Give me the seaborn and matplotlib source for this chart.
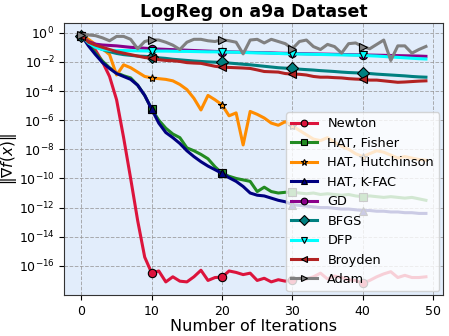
import numpy as np
import pandas as pd
import matplotlib
matplotlib.use("Agg")
import matplotlib.pyplot as plt
import seaborn as sns

# iterations 0..49, values as log10(||grad f||)
iters = list(range(50))

newton_log = [-0.19, -0.55, -1.2, -2.0, -3.0, -4.6, -7.2, -10.0, -12.9, -15.4,
              -16.5, -16.35, -17.1, -16.75, -17.05, -17.1, -16.75, -16.3, -17.0, -16.8,
              -16.77, -16.35, -16.45, -16.6, -16.5, -17.0, -16.85, -17.1, -16.95, -17.05,
              -16.95, -16.85, -16.9, -16.75, -16.5, -16.9, -16.7, -16.8, -16.95, -17.0,
              -17.2, -17.0, -16.75, -16.55, -16.4, -16.8, -16.65, -16.8, -16.8, -16.75]
fisher_log = [-0.19, -0.75, -1.4, -1.95, -2.4, -2.75, -2.95, -3.1, -3.6, -4.3,
              -5.25, -6.0, -6.55, -6.95, -7.2, -7.9, -8.1, -8.35, -8.65, -9.2,
              -9.65, -9.85, -10.0, -10.1, -10.2, -10.9, -10.6, -10.9, -11.0, -10.95,
              -10.95, -11.0, -11.05, -11.0, -11.1, -11.05, -11.1, -11.15, -11.1, -11.2,
              -11.25, -11.2, -11.25, -11.3, -11.25, -11.3, -11.35, -11.3, -11.4, -11.5]
hutch_log = [-0.19, -0.45, -0.8, -1.1, -1.5, -2.9, -2.2, -2.4, -2.7, -3.0,
             -3.1, -3.15, -3.2, -3.3, -3.55, -3.9, -4.5, -5.3, -4.3, -4.6,
             -4.95, -5.7, -5.5, -7.7, -5.4, -5.6, -5.85, -6.2, -6.35, -6.1,
             -6.4, -6.7, -7.0, -7.3, -7.4, -7.2, -7.5, -7.8, -8.0, -8.3,
             -8.5, -8.3, -8.1, -8.2, -8.4, -8.6, -8.5, -8.6, -8.7, -8.75]
kfac_log = [-0.19, -0.9, -1.5, -2.05, -2.45, -2.8, -3.0, -3.2, -3.6, -4.3,
            -5.25, -6.2, -6.85, -7.2, -7.6, -8.1, -8.5, -8.85, -9.15, -9.4,
            -9.65, -9.95, -10.2, -10.55, -11.0, -11.15, -11.2, -11.35, -11.5, -11.6,
            -11.8, -11.85, -11.9, -11.95, -12.0, -12.0, -12.05, -12.1, -12.1, -12.15,
            -12.2, -12.2, -12.25, -12.25, -12.3, -12.3, -12.35, -12.35, -12.4, -12.4]
gd_log = [-0.19, -0.6, -0.78, -0.84, -0.87, -0.9, -0.95, -1.0, -1.03, -1.06,
          -1.1, -1.12, -1.14, -1.16, -1.18, -1.2, -1.22, -1.24, -1.26, -1.28,
          -1.3, -1.31, -1.32, -1.33, -1.35, -1.36, -1.37, -1.38, -1.4, -1.41,
          -1.42, -1.43, -1.44, -1.45, -1.46, -1.47, -1.48, -1.49, -1.5, -1.51,
          -1.52, -1.53, -1.54, -1.55, -1.56, -1.57, -1.58, -1.59, -1.6, -1.62]
bfgs_log = [-0.19, -0.7, -0.95, -1.15, -1.3, -1.42, -1.5, -1.55, -1.6, -1.62,
            -1.65, -1.72, -1.76, -1.82, -1.86, -1.9, -1.94, -1.97, -2.0, -2.02,
            -2.04, -2.08, -2.12, -2.16, -2.2, -2.25, -2.3, -2.35, -2.4, -2.43,
            -2.45, -2.5, -2.53, -2.56, -2.6, -2.63, -2.66, -2.7, -2.73, -2.75,
            -2.77, -2.8, -2.84, -2.87, -2.9, -2.93, -2.96, -3.0, -3.03, -3.05]
dfp_log = [-0.19, -0.7, -1.0, -1.15, -1.2, -1.22, -1.22, -1.23, -1.24, -1.25,
           -1.25, -1.26, -1.26, -1.27, -1.28, -1.28, -1.29, -1.3, -1.31, -1.31,
           -1.32, -1.33, -1.34, -1.35, -1.37, -1.38, -1.39, -1.41, -1.42, -1.44,
           -1.45, -1.46, -1.47, -1.48, -1.49, -1.5, -1.51, -1.52, -1.53, -1.54,
           -1.55, -1.58, -1.6, -1.63, -1.66, -1.69, -1.72, -1.75, -1.78, -1.8]
broyden_log = [-0.19, -0.65, -0.85, -1.0, -1.15, -1.3, -1.4, -1.5, -1.6, -1.7,
               -1.74, -1.85, -1.9, -1.92, -1.97, -2.05, -2.08, -2.1, -2.2, -2.3,
               -2.36, -2.38, -2.4, -2.42, -2.45, -2.55, -2.66, -2.68, -2.7, -2.8,
               -2.84, -2.85, -2.9, -3.0, -3.05, -3.05, -3.08, -3.1, -3.15, -3.18,
               -3.2, -3.25, -3.25, -3.3, -3.35, -3.4, -3.38, -3.35, -3.32, -3.3]
adam_log = [-0.14, -0.15, -0.2, -0.35, -0.55, -0.25, -0.25, -0.45, -1.1, -0.6,
            -0.48, -0.5, -0.65, -0.85, -1.15, -0.65, -0.45, -0.45, -0.55, -0.6,
            -0.48, -0.55, -0.65, -1.45, -0.5, -0.45, -0.7, -0.45, -0.6, -0.75,
            -1.1, -0.6, -0.5, -0.95, -1.15, -0.8, -0.95, -1.4, -0.75, -0.7,
            -0.95, -1.1, -0.8, -0.5, -1.9, -0.9, -0.9, -1.4, -1.15, -0.94]

methods = ["Newton", "HAT, Fisher", "HAT, Hutchinson", "HAT, K-FAC", "GD",
           "BFGS", "DFP", "Broyden", "Adam"]
series = [newton_log, fisher_log, hutch_log, kfac_log, gd_log,
          bfgs_log, dfp_log, broyden_log, adam_log]
colors = ["crimson", "forestgreen", "darkorange", "navy", "darkmagenta",
          "teal", "cyan", "firebrick", "gray"]
markers = ["o", "s", "*", "^", "o", "D", "v", "<", ">"]

df = pd.DataFrame({
    "iter": iters * len(methods),
    "grad": [10 ** v for s in series for v in s],
    "method": [m for m in methods for _ in iters],
})

fig, ax = plt.subplots(figsize=(4.49, 3.36), dpi=100)
fig.subplots_adjust(left=0.143, right=0.987, top=0.932, bottom=0.122)
ax.set_facecolor("#e2edfb")

for m, c, mk in zip(methods, colors, markers):
    sub = df[df["method"] == m]
    sns.lineplot(data=sub, x="iter", y="grad", ax=ax, color=c, marker=mk,
                 markevery=10, markersize=6, markeredgecolor="black",
                 markeredgewidth=0.8, linewidth=2.2, label=m)

ax.set_yscale("log")
ax.set_yticks([10.0 ** k for k in range(0, -17, -2)])
ax.minorticks_off()
ax.set_xticks([0, 10, 20, 30, 40, 50])
ax.set_ylim(10 ** -18.0, 10 ** 0.68)
ax.grid(True, linestyle="--", color="#999999", linewidth=0.7, alpha=0.8)
ax.tick_params(labelsize=9)
for sp in ax.spines.values():
    sp.set_color("#333333")

ax.set_title("LogReg on a9a Dataset", fontsize=12.5, fontweight="bold", pad=4)
ax.set_xlabel("Number of Iterations", fontsize=11.5, labelpad=1)
ax.set_ylabel(r"$\|\nabla f(x)\|$", fontsize=11, labelpad=0)
ax.legend(loc="lower right", fontsize=9.3, framealpha=0.8, borderaxespad=0.3,
          labelspacing=0.5, handlelength=2.0, markerscale=0.8)

plt.savefig("out.png", dpi=100)
